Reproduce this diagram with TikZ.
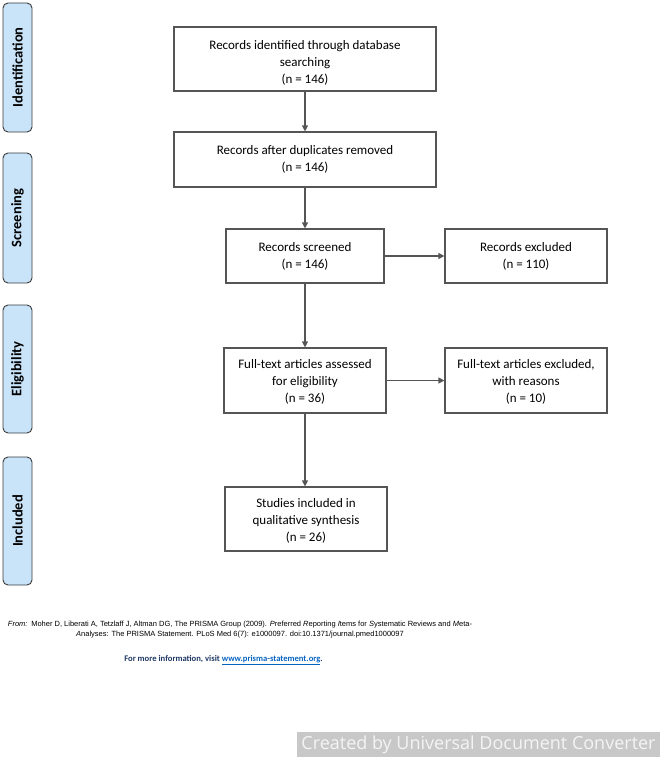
\documentclass[tikz,border=0pt]{standalone}
\usepackage{fontspec}
\setmainfont{Carlito}
\newfontfamily\arialfont{Liberation Sans}
\newfontfamily\wmfont{Open Sans}
\usetikzlibrary{arrows.meta}
\definecolor{phasefill}{HTML}{C9E3F9}
\definecolor{phaseline}{HTML}{3A3A3A}
\definecolor{boxline}{HTML}{555555}
\definecolor{navy}{HTML}{1F3864}
\definecolor{linkblue}{HTML}{0563C1}
\definecolor{wmgray}{HTML}{C8C8C8}
\definecolor{wmtext}{HTML}{F4F4F4}
\tikzset{
  flowbox/.style={draw=boxline, line width=1.2pt, fill=white, align=center, inner sep=0pt,
    font=\fontsize{13}{17}\selectfont},
  phase/.style={draw=phaseline, line width=0.9pt, fill=phasefill, rounded corners=5pt,
    rotate=90, inner sep=0pt, minimum height=29pt,
    font=\fontsize{14.5}{16}\selectfont\bfseries},
  flowarrow/.style={draw=boxline, line width=1.2pt, -{Triangle[length=6pt,width=6pt]}}
}
\begin{document}
\begin{tikzpicture}[x=1pt,y=-1pt]
\useasboundingbox (0,0) rectangle (666,760);
% phase labels
\node[phase, minimum width=129pt] (ident) at (17.5,67.5) {Identification};
\node[phase, minimum width=130pt] (screen) at (17.5,218) {Screening};
\node[phase, minimum width=128pt] (elig) at (17.5,369) {Eligibility};
\node[phase, minimum width=128pt] (incl) at (17.5,521) {Included};
% flow boxes
\node[flowbox, minimum width=262pt, minimum height=64pt] (id) at (305,59)
  {\rule{0pt}{17pt}Records identified through database\\searching\\(n = 146)};
\node[flowbox, minimum width=262pt, minimum height=55pt] (dup) at (305,159.5)
  {Records after duplicates removed\\(n = 146)};
\node[flowbox, minimum width=158pt, minimum height=54pt] (scr) at (305,256)
  {Records screened\\(n = 146)};
\node[flowbox, minimum width=162pt, minimum height=54pt] (exc) at (526,256)
  {Records excluded\\(n = 110)};
\node[flowbox, minimum width=162pt, minimum height=65pt] (full) at (305,380.5)
  {\rule{0pt}{12pt}Full-text articles assessed\\for eligibility\\(n = 36)};
\node[flowbox, minimum width=162pt, minimum height=65pt] (fexc) at (526,380.5)
  {\rule{0pt}{12pt}Full-text articles excluded,\\with reasons\\(n = 10)};
\node[flowbox, minimum width=162pt, minimum height=64pt] (stud) at (306,519)
  {\rule{0pt}{13pt}Studies included in\\qualitative synthesis\\(n = 26)};
% connectors
\draw[flowarrow] (id) -- (dup);
\draw[flowarrow] (dup) -- (scr);
\draw[flowarrow] (scr) -- (exc);
\draw[flowarrow] (scr) -- (full);
\draw[flowarrow] (full) -- (fexc);
\draw[flowarrow] (full.south) -- (full.south |- stud.north);
% footer
\node[align=center, inner sep=0pt, font=\arialfont\fontsize{7.5}{10}\selectfont] (cite) at (240,629.5)
  {\textit{From:}\enspace Moher D, Liberati A, Tetzlaff J, Altman DG, The PRISMA Group (2009). \textit{P}referred \textit{R}eporting \textit{I}tems for \textit{S}ystematic Reviews and \textit{M}eta-\\
   \textit{A}nalyses: The PRISMA Statement. PLoS Med 6(7): e1000097. doi:10.1371/journal.pmed1000097};
\node[inner sep=0pt, text=navy, font=\fontsize{8.6}{10}\selectfont\bfseries] (info) at (223.5,660.5)
  {For more information, visit \textcolor{linkblue}{\underline{www.prisma-statement.org}}.};
% watermark
\node[fill=wmgray, text=wmtext, inner sep=0pt, minimum width=363pt, minimum height=25pt,
  font=\wmfont\fontsize{18}{20}\selectfont] (wm) at (478.5,744.5)
  {Created by Universal Document Converter};
\end{tikzpicture}
\end{document}
